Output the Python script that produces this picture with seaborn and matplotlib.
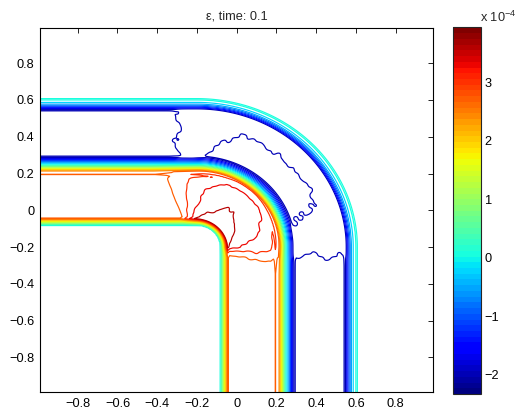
import numpy as np
import matplotlib
matplotlib.use("Agg")
import matplotlib.pyplot as plt
from matplotlib.colors import ListedColormap, Normalize
from matplotlib.cm import ScalarMappable
import seaborn as sns

# ---------------- data ----------------
title = "ε, time: 0.1"
bend_centre = (-0.2, -0.2)              # centre of the three quarter-circle bends
x_ticks = [-0.8, -0.6, -0.4, -0.2, 0, 0.2, 0.4, 0.6, 0.8]
y_ticks = [-0.8, -0.6, -0.4, -0.2, 0, 0.2, 0.4, 0.6, 0.8]
cbar_ticks = [-2, -1, 0, 1, 2, 3]
clim = (-2.33, 3.94)                    # colour limits, units of 1e-4
n_levels = 20
# value (x1e-4) across the bands as a function of distance from the bend centre
prof_r = [0.118, 0.155, 0.165, 0.388, 0.396, 0.403, 0.412, 0.445, 0.49, 0.50, 0.735, 0.746, 0.778, 0.79, 0.803, 0.812]
prof_z = [0.0, 2.80, 2.62, 2.62, 2.78, 2.62, 2.60, 0.20, -2.15, -1.90, -1.90, -2.15, -0.50, -0.15, 0.12, 0.0]
# extra strain around the inner bend (x1e-4): radial fall-off and angular weight
boost_r = [0.155, 0.18, 0.23, 0.30, 0.37, 0.388, 0.41, 0.46]
boost_z = [1.50, 1.25, 1.07, 0.95, 0.78, 0.52, 0.45, 0.0]
boost_phi = [-20, -10, -5, 0, 10, 25, 45, 60, 75, 85, 95, 102, 108, 113, 118]
boost_w = [0.0, 0.2, 0.45, 0.65, 0.75, 0.9, 1.0, 0.97, 0.86, 0.74, 0.56, 0.4, 0.27, 0.12, 0.0]
# low lobe between middle and outer band (angles in degrees along the bend)
low_theta = (-5.0, 99.0)
lobe_theta = (18.0, 80.0)
lobe_r = (0.47, 0.65)
low_depth = -0.25
# small ripples of the simulated field
wob_amp = [0.008, 0.005, 0.003]
wob_kx = [41.0, 83.0, 131.0]
wob_ky = [37.0, 97.0, 113.0]
wob_ph = [0.3, 1.7, 2.9]

# ---------------- field ----------------
g = np.linspace(-0.99, 0.99, 397)
X, Y = np.meshgrid(g, g)
U = X - bend_centre[0]
V = Y - bend_centre[1]
arc = (U >= 0) & (V >= 0)
left = (U < 0) & (V >= 0)
bottom = (U >= 0) & (V < 0)
r = np.where(arc, np.hypot(U, V), np.where(left, V, np.where(bottom, U, np.maximum(U, V))))
s = np.where(left, -U, np.where(bottom, -V, 0.0))
theta = np.where(arc, np.degrees(np.arctan2(V, np.maximum(U, 1e-9))),
                 np.where(left, 90 + np.degrees(s / 0.6), np.where(bottom, -np.degrees(s / 0.6), -90)))
phi = np.degrees(np.arctan2(V, U))

def sig(t):
    return 1.0 / (1.0 + np.exp(-t))

ripple = sum(a * np.sin(kx * X + ph) * np.cos(ky * Y - ph)
             for a, kx, ky, ph in zip(wob_amp, wob_kx, wob_ky, wob_ph))
ripple2 = sum(a * np.cos(kx * Y + 2 * ph) * np.sin(ky * X + ph)
              for a, kx, ky, ph in zip(wob_amp, wob_kx, wob_ky, wob_ph))

Z = np.interp(r, prof_r, prof_z)

# inner-bend boost (ripples only inside the plateau)
taper = sig((r - 0.175) / 0.008) * sig((0.37 - r) / 0.008)
r_w = r + 1.5 * ripple * taper
phi_w = phi + 150 * ripple2 * taper * sig((108 - phi) / 2.0)
rise = np.interp(r, [0.118, 0.155], [0.0, 1.0])
H = np.interp(phi_w, boost_phi, boost_w, left=0.0, right=0.0)
Z = Z + rise * H * np.interp(r_w, boost_r, boost_z, left=boost_z[0], right=0.0)

# low lobe between middle and outer bands
taper2 = sig((r - 0.5) / 0.01) * sig((0.73 - r) / 0.01)
r_w2 = r + 2.2 * ripple * taper2
th_w2 = theta + 260 * ripple2 * taper2
win_t = sig((th_w2 - low_theta[0]) / 1.0) * sig((low_theta[1] - th_w2) / 1.0)
lobe = sig((th_w2 - lobe_theta[0]) / 2.0) * sig((lobe_theta[1] - th_w2) / 4.0)
r_low = lobe_r[0] + (lobe_r[1] - lobe_r[0]) * lobe
win_r = sig((r_w2 - r_low) / 0.006) * sig((0.755 - r) / 0.004)
Z = Z + low_depth * win_t * win_r

# ---------------- plot ----------------
sns.set_theme(style="white")
plt.rcParams["font.family"] = ["Liberation Sans", "DejaVu Sans"]
plt.rcParams["axes.unicode_minus"] = True

jet = ListedColormap(sns.color_palette(matplotlib.colormaps["jet"](np.linspace(0, 1, 64))))
norm = Normalize(*clim)
levels = np.linspace(clim[0], clim[1], n_levels + 2)[1:-1]

fig = plt.figure(figsize=(5.18, 4.15), dpi=100)
ax = fig.add_axes([40 / 518, 1 - 392.3 / 415, 393.3 / 518, 364 / 415])
ax.contour(X, Y, Z, levels=levels, cmap=jet, norm=norm, linewidths=0.85)
ax.set_xlim(-0.99, 0.99)
ax.set_ylim(-0.99, 0.99)
ax.set_xticks(x_ticks)
ax.set_yticks(y_ticks)
ax.set_xticklabels([f"{t:g}".replace("-", "\u2212") for t in x_ticks])
ax.set_yticklabels([f"{t:g}".replace("-", "\u2212") for t in y_ticks])
ax.tick_params(direction="in", length=3.5, width=0.6, top=True, right=True,
               labelsize=9.2, colors="black", pad=4)
for sp in ax.spines.values():
    sp.set_linewidth(0.8)
    sp.set_color("black")
ax.set_title(title, fontsize=9.2, pad=6)

cax = fig.add_axes([453.3 / 518, 1 - 394 / 415, 27.4 / 518, 366.5 / 415])
cb = fig.colorbar(ScalarMappable(norm=norm, cmap=jet), cax=cax)
cb.set_ticks(cbar_ticks)
cb.set_ticklabels([f"{t:g}".replace("-", "\u2212") for t in cbar_ticks])
cax.tick_params(direction="in", length=3.5, width=0.6, labelsize=9.2, colors="black", pad=3)
cb.outline.set_linewidth(0.8)
fig.text(480 / 518, 1 - 22 / 415, "x 10$^{\\mathregular{\u22124}}$", fontsize=9.2, ha="left", va="baseline")

fig.savefig("out.png", dpi=100)
